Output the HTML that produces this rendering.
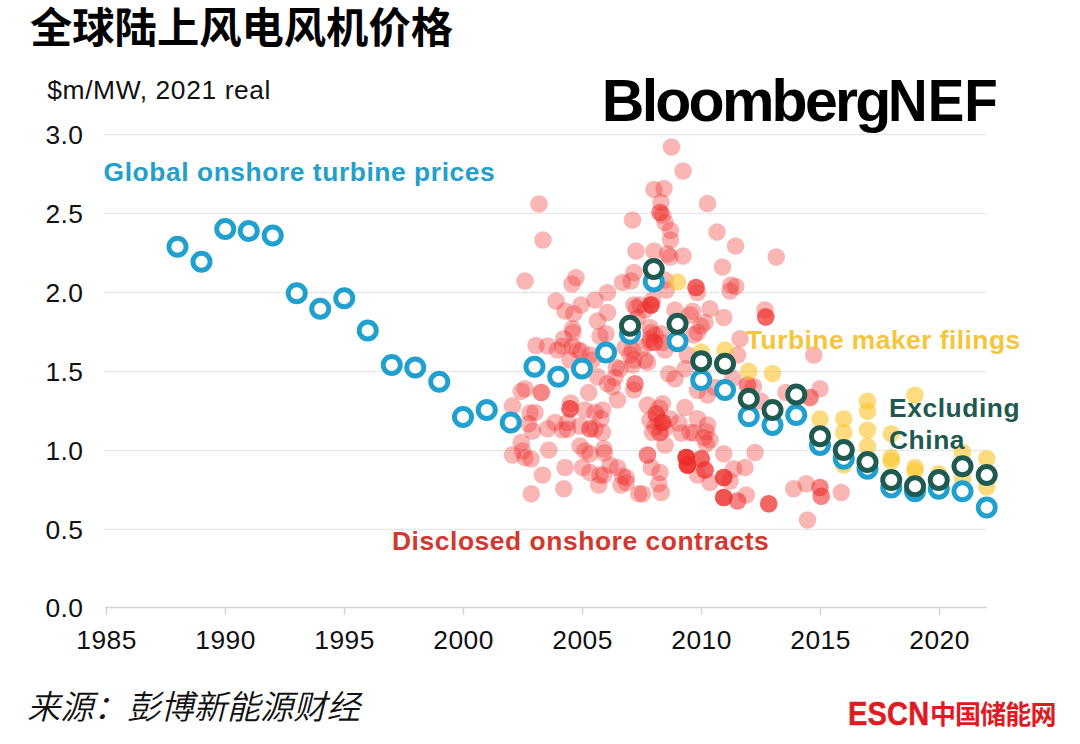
<!DOCTYPE html>
<html lang="zh-CN">
<head>
<meta charset="utf-8">
<title>全球陆上风电风机价格</title>
<style>
html,body{margin:0;padding:0;background:#fff;}
body{width:1080px;height:744px;overflow:hidden;position:relative;font-family:"Liberation Sans","Noto Sans CJK SC",sans-serif;}
svg{position:absolute;left:0;top:0;display:block;}
.t{position:absolute;white-space:nowrap;line-height:1;color:#111;}
.title{left:30px;top:8px;font-size:42.3px;font-weight:700;font-family:"Liberation Sans","Noto Sans CJK SC",sans-serif;color:#000;}
.sub{left:47.3px;top:77.2px;font-size:26.4px;letter-spacing:0.6px;}
.logo{left:601.8px;top:71.8px;font-size:59px;font-weight:700;letter-spacing:-2.75px;color:#000;}
.logo b{display:inline-block;transform:scaleX(0.93);transform-origin:0 0;letter-spacing:0;margin-left:-0.7px;font-weight:700;}
.yl{left:30px;width:53.5px;text-align:right;font-size:26.4px;letter-spacing:0.45px;}
.xl{width:80px;text-align:center;font-size:26.4px;letter-spacing:0.45px;top:626.9px;}
.lab{font-size:26.4px;font-weight:700;letter-spacing:0.56px;}
.src{left:27px;top:688px;font-size:33.3px;font-style:italic;font-weight:350;font-family:"Noto Sans CJK SC",sans-serif;color:#111;}
.escn{left:848px;top:696px;font-size:34px;font-weight:700;letter-spacing:0.2px;color:#de1a22;-webkit-text-stroke:0.5px #de1a22;transform:scaleX(0.853);transform-origin:0 0;}
.cn{left:930px;top:700px;font-size:26px;font-weight:700;letter-spacing:-0.9px;color:#de1a22;font-family:"Noto Sans CJK SC",sans-serif;}
</style>
</head>
<body>

<svg width="1080" height="744" viewBox="0 0 1080 744">
<line x1="105" y1="134.5" x2="987" y2="134.5" stroke="#d4d4d4" stroke-width="1" stroke-dasharray="1.2 0.8"/>
<line x1="105" y1="213.5" x2="987" y2="213.5" stroke="#d4d4d4" stroke-width="1" stroke-dasharray="1.2 0.8"/>
<line x1="105" y1="292.5" x2="987" y2="292.5" stroke="#d4d4d4" stroke-width="1" stroke-dasharray="1.2 0.8"/>
<line x1="105" y1="371.5" x2="987" y2="371.5" stroke="#d4d4d4" stroke-width="1" stroke-dasharray="1.2 0.8"/>
<line x1="105" y1="450.5" x2="987" y2="450.5" stroke="#d4d4d4" stroke-width="1" stroke-dasharray="1.2 0.8"/>
<line x1="105" y1="529.5" x2="987" y2="529.5" stroke="#d4d4d4" stroke-width="1" stroke-dasharray="1.2 0.8"/>
<line x1="105" y1="607.5" x2="987" y2="607.5" stroke="#d2d2d2" stroke-width="1.3"/>
<line x1="106.5" y1="607" x2="106.5" y2="615" stroke="#d2d2d2" stroke-width="1.3"/>
<line x1="225.5" y1="607" x2="225.5" y2="615" stroke="#d2d2d2" stroke-width="1.3"/>
<line x1="344.5" y1="607" x2="344.5" y2="615" stroke="#d2d2d2" stroke-width="1.3"/>
<line x1="463.5" y1="607" x2="463.5" y2="615" stroke="#d2d2d2" stroke-width="1.3"/>
<line x1="582.5" y1="607" x2="582.5" y2="615" stroke="#d2d2d2" stroke-width="1.3"/>
<line x1="701.5" y1="607" x2="701.5" y2="615" stroke="#d2d2d2" stroke-width="1.3"/>
<line x1="820.5" y1="607" x2="820.5" y2="615" stroke="#d2d2d2" stroke-width="1.3"/>
<line x1="939.5" y1="607" x2="939.5" y2="615" stroke="#d2d2d2" stroke-width="1.3"/>
<g fill="#ee2d2a" fill-opacity="0.35">
<circle cx="671.5" cy="147" r="8.8"/>
<circle cx="683" cy="171" r="8.8"/>
<circle cx="654" cy="189.5" r="8.8"/>
<circle cx="664" cy="188.5" r="8.8"/>
<circle cx="661" cy="202.5" r="8.8"/>
<circle cx="707.5" cy="203.5" r="8.8"/>
<circle cx="539" cy="204" r="8.8"/>
<circle cx="660" cy="212.5" r="8.8"/>
<circle cx="660" cy="212.5" r="8.8"/>
<circle cx="662.5" cy="215" r="8.8"/>
<circle cx="632.5" cy="220" r="8.8"/>
<circle cx="665" cy="222.5" r="8.8"/>
<circle cx="670.5" cy="230.5" r="8.8"/>
<circle cx="717" cy="232" r="8.8"/>
<circle cx="543" cy="240" r="8.8"/>
<circle cx="670.5" cy="240" r="8.8"/>
<circle cx="735.5" cy="246" r="8.8"/>
<circle cx="636" cy="251" r="8.8"/>
<circle cx="654" cy="251" r="8.8"/>
<circle cx="667.5" cy="254" r="8.8"/>
<circle cx="683" cy="256" r="8.8"/>
<circle cx="722.5" cy="267" r="8.8"/>
<circle cx="634" cy="272.5" r="8.8"/>
<circle cx="525" cy="281" r="8.8"/>
<circle cx="576" cy="277.5" r="8.8"/>
<circle cx="572" cy="284" r="8.8"/>
<circle cx="622.5" cy="282.5" r="8.8"/>
<circle cx="631" cy="281" r="8.8"/>
<circle cx="607.5" cy="292.5" r="8.8"/>
<circle cx="731" cy="285" r="8.8"/>
<circle cx="730" cy="291" r="8.8"/>
<circle cx="696" cy="287.5" r="8.8"/>
<circle cx="696" cy="287.5" r="8.8"/>
<circle cx="696" cy="287.5" r="8.8"/>
<circle cx="697.5" cy="292.5" r="8.8"/>
<circle cx="556" cy="301" r="8.8"/>
<circle cx="595" cy="300" r="8.8"/>
<circle cx="581" cy="305" r="8.8"/>
<circle cx="652.5" cy="300" r="8.8"/>
<circle cx="665" cy="280" r="8.8"/>
<circle cx="565" cy="311" r="8.8"/>
<circle cx="573.75" cy="313.75" r="8.8"/>
<circle cx="607.5" cy="312.5" r="8.8"/>
<circle cx="597.5" cy="321" r="8.8"/>
<circle cx="572.5" cy="328.75" r="8.8"/>
<circle cx="606" cy="333.75" r="8.8"/>
<circle cx="563.75" cy="338.75" r="8.8"/>
<circle cx="536" cy="345.5" r="8.8"/>
<circle cx="547.5" cy="346" r="8.8"/>
<circle cx="557.5" cy="350" r="8.8"/>
<circle cx="572.5" cy="346" r="8.8"/>
<circle cx="581" cy="351" r="8.8"/>
<circle cx="590" cy="355" r="8.8"/>
<circle cx="640" cy="305" r="8.8"/>
<circle cx="651" cy="305" r="8.8"/>
<circle cx="651" cy="305" r="8.8"/>
<circle cx="651" cy="305" r="8.8"/>
<circle cx="651" cy="305" r="8.8"/>
<circle cx="645" cy="310" r="8.8"/>
<circle cx="637.5" cy="317.5" r="8.8"/>
<circle cx="675" cy="310" r="8.8"/>
<circle cx="690" cy="315" r="8.8"/>
<circle cx="710" cy="308.75" r="8.8"/>
<circle cx="723.75" cy="317.5" r="8.8"/>
<circle cx="701" cy="326" r="8.8"/>
<circle cx="697.5" cy="332.5" r="8.8"/>
<circle cx="650" cy="327.5" r="8.8"/>
<circle cx="655" cy="335" r="8.8"/>
<circle cx="650" cy="342.5" r="8.8"/>
<circle cx="662.5" cy="342.5" r="8.8"/>
<circle cx="642.5" cy="347.5" r="8.8"/>
<circle cx="645" cy="360" r="8.8"/>
<circle cx="620" cy="368.75" r="8.8"/>
<circle cx="615" cy="377.5" r="8.8"/>
<circle cx="607.5" cy="383.75" r="8.8"/>
<circle cx="635" cy="383.75" r="8.8"/>
<circle cx="635" cy="383.75" r="8.8"/>
<circle cx="633.75" cy="390" r="8.8"/>
<circle cx="668.75" cy="373.75" r="8.8"/>
<circle cx="675" cy="378.75" r="8.8"/>
<circle cx="685" cy="368.75" r="8.8"/>
<circle cx="740" cy="338.75" r="8.8"/>
<circle cx="525" cy="388.75" r="8.8"/>
<circle cx="585" cy="410" r="8.8"/>
<circle cx="601" cy="418.75" r="8.8"/>
<circle cx="555" cy="422.5" r="8.8"/>
<circle cx="528.75" cy="423.75" r="8.8"/>
<circle cx="715" cy="387.5" r="8.8"/>
<circle cx="707.5" cy="395" r="8.8"/>
<circle cx="521.25" cy="391.25" r="8.8"/>
<circle cx="541.25" cy="392.5" r="8.8"/>
<circle cx="541.25" cy="392.5" r="8.8"/>
<circle cx="512.5" cy="406" r="8.8"/>
<circle cx="535" cy="412.5" r="8.8"/>
<circle cx="570" cy="408.75" r="8.8"/>
<circle cx="570" cy="408.75" r="8.8"/>
<circle cx="570" cy="408.75" r="8.8"/>
<circle cx="588.75" cy="392.5" r="8.8"/>
<circle cx="617.5" cy="400" r="8.8"/>
<circle cx="602.5" cy="410" r="8.8"/>
<circle cx="532.5" cy="431" r="8.8"/>
<circle cx="547.5" cy="428.75" r="8.8"/>
<circle cx="562.5" cy="430" r="8.8"/>
<circle cx="521.25" cy="442.5" r="8.8"/>
<circle cx="522.5" cy="451" r="8.8"/>
<circle cx="512.5" cy="455" r="8.8"/>
<circle cx="525" cy="457.5" r="8.8"/>
<circle cx="531" cy="459" r="8.8"/>
<circle cx="548.75" cy="450" r="8.8"/>
<circle cx="542.5" cy="475" r="8.8"/>
<circle cx="531.25" cy="493.75" r="8.8"/>
<circle cx="565" cy="467.5" r="8.8"/>
<circle cx="563.75" cy="488.75" r="8.8"/>
<circle cx="590" cy="428.75" r="8.8"/>
<circle cx="590" cy="428.75" r="8.8"/>
<circle cx="580" cy="426" r="8.8"/>
<circle cx="602.5" cy="432.5" r="8.8"/>
<circle cx="603.75" cy="448.75" r="8.8"/>
<circle cx="585" cy="451" r="8.8"/>
<circle cx="582.5" cy="467.5" r="8.8"/>
<circle cx="600" cy="475" r="8.8"/>
<circle cx="610" cy="465" r="8.8"/>
<circle cx="622.5" cy="476" r="8.8"/>
<circle cx="598.75" cy="485" r="8.8"/>
<circle cx="621" cy="485" r="8.8"/>
<circle cx="638.75" cy="493.75" r="8.8"/>
<circle cx="567.5" cy="422.5" r="8.8"/>
<circle cx="595" cy="412.5" r="8.8"/>
<circle cx="647.5" cy="405" r="8.8"/>
<circle cx="662.5" cy="403.75" r="8.8"/>
<circle cx="656.25" cy="413.75" r="8.8"/>
<circle cx="656.25" cy="413.75" r="8.8"/>
<circle cx="650" cy="420" r="8.8"/>
<circle cx="662.5" cy="422.5" r="8.8"/>
<circle cx="662.5" cy="422.5" r="8.8"/>
<circle cx="662.5" cy="422.5" r="8.8"/>
<circle cx="670" cy="418.75" r="8.8"/>
<circle cx="660" cy="432.5" r="8.8"/>
<circle cx="660" cy="432.5" r="8.8"/>
<circle cx="652.5" cy="432.5" r="8.8"/>
<circle cx="665" cy="445" r="8.8"/>
<circle cx="685" cy="407.5" r="8.8"/>
<circle cx="697.5" cy="418.75" r="8.8"/>
<circle cx="707.5" cy="425" r="8.8"/>
<circle cx="690" cy="432.5" r="8.8"/>
<circle cx="703.75" cy="437.5" r="8.8"/>
<circle cx="710" cy="440" r="8.8"/>
<circle cx="723.75" cy="453.75" r="8.8"/>
<circle cx="686.25" cy="457.5" r="8.8"/>
<circle cx="686.25" cy="457.5" r="8.8"/>
<circle cx="686.25" cy="457.5" r="8.8"/>
<circle cx="686.25" cy="457.5" r="8.8"/>
<circle cx="686.25" cy="457.5" r="8.8"/>
<circle cx="686.25" cy="457.5" r="8.8"/>
<circle cx="687.5" cy="465" r="8.8"/>
<circle cx="687.5" cy="465" r="8.8"/>
<circle cx="687.5" cy="465" r="8.8"/>
<circle cx="687.5" cy="465" r="8.8"/>
<circle cx="687.5" cy="465" r="8.8"/>
<circle cx="687.5" cy="465" r="8.8"/>
<circle cx="701.25" cy="458.75" r="8.8"/>
<circle cx="701.25" cy="458.75" r="8.8"/>
<circle cx="701.25" cy="458.75" r="8.8"/>
<circle cx="705" cy="470" r="8.8"/>
<circle cx="705" cy="470" r="8.8"/>
<circle cx="705" cy="470" r="8.8"/>
<circle cx="723.75" cy="477.5" r="8.8"/>
<circle cx="723.75" cy="477.5" r="8.8"/>
<circle cx="723.75" cy="477.5" r="8.8"/>
<circle cx="723.75" cy="477.5" r="8.8"/>
<circle cx="723.75" cy="497.5" r="8.8"/>
<circle cx="723.75" cy="497.5" r="8.8"/>
<circle cx="723.75" cy="497.5" r="8.8"/>
<circle cx="723.75" cy="497.5" r="8.8"/>
<circle cx="737.5" cy="501" r="8.8"/>
<circle cx="737.5" cy="501" r="8.8"/>
<circle cx="746.25" cy="495" r="8.8"/>
<circle cx="745" cy="467.5" r="8.8"/>
<circle cx="733.75" cy="468.75" r="8.8"/>
<circle cx="755" cy="452.5" r="8.8"/>
<circle cx="697.5" cy="475" r="8.8"/>
<circle cx="710" cy="482.5" r="8.8"/>
<circle cx="647.5" cy="455" r="8.8"/>
<circle cx="647.5" cy="455" r="8.8"/>
<circle cx="651.25" cy="467.5" r="8.8"/>
<circle cx="660" cy="472.5" r="8.8"/>
<circle cx="658.75" cy="483.75" r="8.8"/>
<circle cx="642.5" cy="493.75" r="8.8"/>
<circle cx="661.25" cy="492.5" r="8.8"/>
<circle cx="580" cy="446" r="8.8"/>
<circle cx="590" cy="453.75" r="8.8"/>
<circle cx="820" cy="388.75" r="8.8"/>
<circle cx="810" cy="397.5" r="8.8"/>
<circle cx="810" cy="397.5" r="8.8"/>
<circle cx="786" cy="392.5" r="8.8"/>
<circle cx="747.5" cy="385" r="8.8"/>
<circle cx="747.5" cy="385" r="8.8"/>
<circle cx="793.75" cy="488.75" r="8.8"/>
<circle cx="806.25" cy="483.75" r="8.8"/>
<circle cx="820" cy="487.5" r="8.8"/>
<circle cx="820" cy="487.5" r="8.8"/>
<circle cx="821.25" cy="496.25" r="8.8"/>
<circle cx="821.25" cy="496.25" r="8.8"/>
<circle cx="841.25" cy="492.5" r="8.8"/>
<circle cx="768.75" cy="503.75" r="8.8"/>
<circle cx="768.75" cy="503.75" r="8.8"/>
<circle cx="768.75" cy="503.75" r="8.8"/>
<circle cx="807.5" cy="520" r="8.8"/>
<circle cx="657" cy="418" r="8.8"/>
<circle cx="665" cy="428.5" r="8.8"/>
<circle cx="655" cy="427" r="8.8"/>
<circle cx="659.5" cy="408" r="8.8"/>
<circle cx="760.9" cy="401.2" r="8.8"/>
<circle cx="753.5" cy="386.5" r="8.8"/>
<circle cx="732.7" cy="378.4" r="8.8"/>
<circle cx="735.7" cy="286.5" r="8.8"/>
<circle cx="573" cy="332.5" r="8.8"/>
<circle cx="600" cy="336.25" r="8.8"/>
<circle cx="562.5" cy="346.25" r="8.8"/>
<circle cx="577.5" cy="350" r="8.8"/>
<circle cx="570" cy="360" r="8.8"/>
<circle cx="592.5" cy="360" r="8.8"/>
<circle cx="633.75" cy="305" r="8.8"/>
<circle cx="625" cy="347.5" r="8.8"/>
<circle cx="630" cy="355" r="8.8"/>
<circle cx="616.25" cy="367.5" r="8.8"/>
<circle cx="632.5" cy="365" r="8.8"/>
<circle cx="636.25" cy="307.5" r="8.8"/>
<circle cx="666.25" cy="290" r="8.8"/>
<circle cx="692.5" cy="311.25" r="8.8"/>
<circle cx="705" cy="322.5" r="8.8"/>
<circle cx="651.25" cy="332.5" r="8.8"/>
<circle cx="654.4" cy="342.5" r="8.8"/>
<circle cx="654.4" cy="342.5" r="8.8"/>
<circle cx="650" cy="338.75" r="8.8"/>
<circle cx="661.25" cy="333.75" r="8.8"/>
<circle cx="665" cy="350" r="8.8"/>
<circle cx="632.5" cy="350" r="8.8"/>
<circle cx="633.75" cy="360" r="8.8"/>
<circle cx="647.5" cy="362.5" r="8.8"/>
<circle cx="687.5" cy="355" r="8.8"/>
<circle cx="737.5" cy="355" r="8.8"/>
<circle cx="693.75" cy="335" r="8.8"/>
<circle cx="530" cy="413" r="8.8"/>
<circle cx="570.6" cy="403" r="8.8"/>
<circle cx="597.5" cy="376.75" r="8.8"/>
<circle cx="612.5" cy="386.75" r="8.8"/>
<circle cx="567.5" cy="429.25" r="8.8"/>
<circle cx="595" cy="429.25" r="8.8"/>
<circle cx="604.4" cy="453" r="8.8"/>
<circle cx="697.5" cy="390.5" r="8.8"/>
<circle cx="678.75" cy="423" r="8.8"/>
<circle cx="681.25" cy="433" r="8.8"/>
<circle cx="693.75" cy="433" r="8.8"/>
<circle cx="706.25" cy="431.75" r="8.8"/>
<circle cx="590" cy="472.5" r="8.8"/>
<circle cx="617.5" cy="467.5" r="8.8"/>
<circle cx="603.75" cy="475" r="8.8"/>
<circle cx="626.25" cy="477.5" r="8.8"/>
<circle cx="626.25" cy="482.5" r="8.8"/>
<circle cx="706.25" cy="443.75" r="8.8"/>
<circle cx="730" cy="481" r="8.8"/>
<circle cx="670" cy="257" r="8.8"/>
<circle cx="776.25" cy="257" r="8.8"/>
<circle cx="765.75" cy="317" r="8.8"/>
<circle cx="765.75" cy="317" r="8.8"/>
<circle cx="765.75" cy="317" r="8.8"/>
<circle cx="765" cy="310" r="8.8"/>
<circle cx="813.75" cy="355" r="8.8"/>
</g>
<g fill="#fbc52c" fill-opacity="0.6">
<circle cx="677.5" cy="282" r="8.8"/>
<circle cx="748.75" cy="371.25" r="8.8"/>
<circle cx="772.5" cy="373.5" r="8.8"/>
<circle cx="820" cy="418.75" r="8.8"/>
<circle cx="843.75" cy="418.75" r="8.8"/>
<circle cx="843.75" cy="432.5" r="8.8"/>
<circle cx="843.75" cy="465" r="8.8"/>
<circle cx="867.5" cy="401.25" r="8.8"/>
<circle cx="867.5" cy="411.25" r="8.8"/>
<circle cx="867.5" cy="430" r="8.8"/>
<circle cx="867.5" cy="446.25" r="8.8"/>
<circle cx="891.25" cy="433.75" r="8.8"/>
<circle cx="891.25" cy="457.5" r="8.8"/>
<circle cx="891.25" cy="461" r="8.8"/>
<circle cx="915" cy="395" r="8.8"/>
<circle cx="915" cy="467.5" r="8.8"/>
<circle cx="915" cy="471" r="8.8"/>
<circle cx="938.75" cy="473.75" r="8.8"/>
<circle cx="962.5" cy="452.5" r="8.8"/>
<circle cx="962.5" cy="478.75" r="8.8"/>
<circle cx="986.75" cy="458.5" r="8.8"/>
<circle cx="986.75" cy="487" r="8.8"/>
<circle cx="701.25" cy="352" r="8.8"/>
<circle cx="725" cy="350" r="8.8"/>
</g>
<g fill="#fff" stroke="#1fa0ce" stroke-width="4.9">
<circle cx="177.5" cy="246.75" r="8.55"/>
<circle cx="201.5" cy="261.75" r="8.55"/>
<circle cx="225.25" cy="229" r="8.55"/>
<circle cx="248.75" cy="231" r="8.55"/>
<circle cx="272.75" cy="235.5" r="8.55"/>
<circle cx="296.75" cy="293.25" r="8.55"/>
<circle cx="320.25" cy="308.75" r="8.55"/>
<circle cx="344.25" cy="298.25" r="8.55"/>
<circle cx="367.75" cy="330.5" r="8.55"/>
<circle cx="391.75" cy="365" r="8.55"/>
<circle cx="415.25" cy="367.5" r="8.55"/>
<circle cx="439.25" cy="381.75" r="8.55"/>
<circle cx="463" cy="417" r="8.55"/>
<circle cx="486.75" cy="410" r="8.55"/>
<circle cx="510.75" cy="422.5" r="8.55"/>
<circle cx="534.5" cy="366.75" r="8.55"/>
<circle cx="558.25" cy="376.75" r="8.55"/>
<circle cx="582" cy="368.5" r="8.55"/>
<circle cx="606" cy="352.5" r="8.55"/>
<circle cx="630" cy="333.75" r="8.55"/>
<circle cx="653.75" cy="281.5" r="8.55"/>
<circle cx="677.5" cy="341.25" r="8.55"/>
<circle cx="701.25" cy="380" r="8.55"/>
<circle cx="725" cy="390" r="8.55"/>
<circle cx="748.75" cy="416.25" r="8.55"/>
<circle cx="772.5" cy="425" r="8.55"/>
<circle cx="796.25" cy="415" r="8.55"/>
<circle cx="820" cy="445" r="8.55"/>
<circle cx="843.75" cy="458.75" r="8.55"/>
<circle cx="867.5" cy="468.75" r="8.55"/>
<circle cx="891.25" cy="487.5" r="8.55"/>
<circle cx="915" cy="491.25" r="8.55"/>
<circle cx="938.75" cy="488.75" r="8.55"/>
<circle cx="962.5" cy="491.25" r="8.55"/>
<circle cx="986.75" cy="507.5" r="8.55"/>
</g>
<g fill="#fff" stroke="#1f5a50" stroke-width="4.9">
<circle cx="630" cy="325.75" r="8.55"/>
<circle cx="653.75" cy="269" r="8.55"/>
<circle cx="677.5" cy="323.75" r="8.55"/>
<circle cx="701.25" cy="361.25" r="8.55"/>
<circle cx="725" cy="363.75" r="8.55"/>
<circle cx="748.75" cy="398.75" r="8.55"/>
<circle cx="772.5" cy="410" r="8.55"/>
<circle cx="796.25" cy="394.5" r="8.55"/>
<circle cx="820" cy="436.25" r="8.55"/>
<circle cx="843.75" cy="450" r="8.55"/>
<circle cx="867.5" cy="462" r="8.55"/>
<circle cx="891.25" cy="480" r="8.55"/>
<circle cx="915" cy="486.25" r="8.55"/>
<circle cx="938.75" cy="480" r="8.55"/>
<circle cx="962.5" cy="466.25" r="8.55"/>
<circle cx="986.75" cy="475" r="8.55"/>
</g>
</svg>
<div class="t title">全球陆上风电风机价格</div>
<div class="t sub">$m/MW, 2021 real</div>
<div class="t logo">Bloomberg<b>NEF</b></div>
<div class="t yl" style="top:122px">3.0</div>
<div class="t yl" style="top:201px">2.5</div>
<div class="t yl" style="top:280px">2.0</div>
<div class="t yl" style="top:359px">1.5</div>
<div class="t yl" style="top:438px">1.0</div>
<div class="t yl" style="top:517px">0.5</div>
<div class="t yl" style="top:595px">0.0</div>
<div class="t xl" style="left:66.6px">1985</div>
<div class="t xl" style="left:185.6px">1990</div>
<div class="t xl" style="left:304.6px">1995</div>
<div class="t xl" style="left:423.6px">2000</div>
<div class="t xl" style="left:542.6px">2005</div>
<div class="t xl" style="left:661.6px">2010</div>
<div class="t xl" style="left:780.6px">2015</div>
<div class="t xl" style="left:899.6px">2020</div>
<div class="t lab" style="left:103.6px;top:159px;color:#22a0cb">Global onshore turbine prices</div>
<div class="t lab" style="left:746px;top:326.6px;letter-spacing:0.46px;color:#f5c53a">Turbine maker filings</div>
<div class="t lab" style="left:889px;top:391.7px;color:#1f5a50;line-height:32px">Excluding<br>China</div>
<div class="t lab" style="left:392px;top:528.2px;color:#d3372d">Disclosed onshore contracts</div>
<div class="t src">来源：彭博新能源财经</div>
<div class="t escn">ESCN</div>
<div class="t cn">中国储能网</div>
</body></html>
